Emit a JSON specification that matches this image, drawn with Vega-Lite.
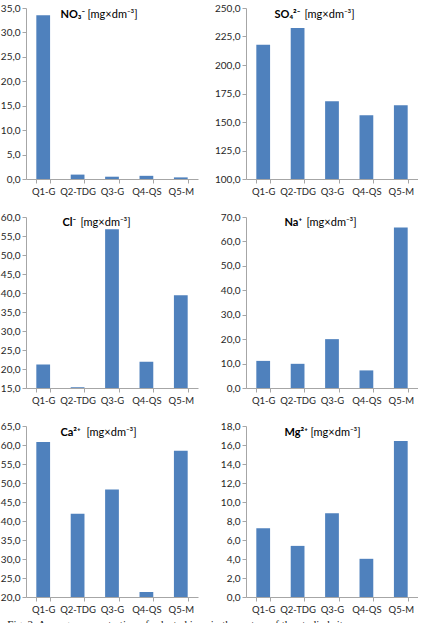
{
  "$schema": "https://vega.github.io/schema/vega-lite/v6.json",
  "padding": {"left": 0, "top": 3, "right": 0, "bottom": 0},
  "background": "white",
  "data": {"values": [
    {"ion": "NO3", "site": "Q1-G", "value": 33.5},
    {"ion": "NO3", "site": "Q2-TDG", "value": 0.9},
    {"ion": "NO3", "site": "Q3-G", "value": 0.47},
    {"ion": "NO3", "site": "Q4-QS", "value": 0.65},
    {"ion": "NO3", "site": "Q5-M", "value": 0.33},
    {"ion": "SO4", "site": "Q1-G", "value": 217.8},
    {"ion": "SO4", "site": "Q2-TDG", "value": 232.5},
    {"ion": "SO4", "site": "Q3-G", "value": 168.3},
    {"ion": "SO4", "site": "Q4-QS", "value": 155.9},
    {"ion": "SO4", "site": "Q5-M", "value": 164.8},
    {"ion": "Cl", "site": "Q1-G", "value": 21.2},
    {"ion": "Cl", "site": "Q2-TDG", "value": 15.2},
    {"ion": "Cl", "site": "Q3-G", "value": 56.8},
    {"ion": "Cl", "site": "Q4-QS", "value": 21.9},
    {"ion": "Cl", "site": "Q5-M", "value": 39.4},
    {"ion": "Na", "site": "Q1-G", "value": 11.1},
    {"ion": "Na", "site": "Q2-TDG", "value": 9.9},
    {"ion": "Na", "site": "Q3-G", "value": 20.0},
    {"ion": "Na", "site": "Q4-QS", "value": 7.2},
    {"ion": "Na", "site": "Q5-M", "value": 65.7},
    {"ion": "Ca", "site": "Q1-G", "value": 60.8},
    {"ion": "Ca", "site": "Q2-TDG", "value": 41.9},
    {"ion": "Ca", "site": "Q3-G", "value": 48.3},
    {"ion": "Ca", "site": "Q4-QS", "value": 21.3},
    {"ion": "Ca", "site": "Q5-M", "value": 58.5},
    {"ion": "Mg", "site": "Q1-G", "value": 7.24},
    {"ion": "Mg", "site": "Q2-TDG", "value": 5.38},
    {"ion": "Mg", "site": "Q3-G", "value": 8.81},
    {"ion": "Mg", "site": "Q4-QS", "value": 4.02},
    {"ion": "Mg", "site": "Q5-M", "value": 16.43}
  ]},
  "columns": 2,
  "spacing": {"row": 16, "column": 16},
  "title": {
    "text": "Fig. 2. Average concentration of selected ions in the waters of the studied sites",
    "orient": "bottom",
    "anchor": "start",
    "font": "Liberation Serif",
    "fontSize": 11,
    "fontWeight": "normal",
    "color": "#222222",
    "offset": 5,
    "dx": 7
  },
  "concat": [
    {
      "width": 172, "height": 171,
      "transform": [{"filter": "datum.ion == 'NO3'"}],
      "mark": {"type": "bar", "color": "#4f81bd", "clip": true},
      "encoding": {
        "x": {"field": "site", "type": "nominal", "sort": null,
              "scale": {"paddingInner": 0.6, "paddingOuter": 0.3},
              "axis": {"title": "[mg×dm⁻³]", "titleX": 61, "titleY": -162}},
        "y": {"field": "value", "type": "quantitative",
              "scale": {"domain": [0, 35], "nice": false, "zero": false},
              "axis": {"values": [0, 5, 10, 15, 20, 25, 30, 35], "title": "NO₃⁻", "titleX": 34, "titleY": 9}}
      }
    },
    {
      "width": 172, "height": 171,
      "transform": [{"filter": "datum.ion == 'SO4'"}],
      "mark": {"type": "bar", "color": "#4f81bd", "clip": true},
      "encoding": {
        "x": {"field": "site", "type": "nominal", "sort": null,
              "scale": {"paddingInner": 0.6, "paddingOuter": 0.3},
              "axis": {"title": "[mg×dm⁻³]", "titleX": 58, "titleY": -162}},
        "y": {"field": "value", "type": "quantitative",
              "scale": {"domain": [100, 250], "nice": false, "zero": false},
              "axis": {"values": [100, 125, 150, 175, 200, 225, 250], "title": "SO₄²⁻", "titleX": 28, "titleY": 9}}
      }
    },
    {
      "width": 172, "height": 171,
      "transform": [{"filter": "datum.ion == 'Cl'"}],
      "mark": {"type": "bar", "color": "#4f81bd", "clip": true},
      "encoding": {
        "x": {"field": "site", "type": "nominal", "sort": null,
              "scale": {"paddingInner": 0.6, "paddingOuter": 0.3},
              "axis": {"title": "[mg×dm⁻³]", "titleX": 54, "titleY": -163}},
        "y": {"field": "value", "type": "quantitative",
              "scale": {"domain": [15, 60], "nice": false, "zero": false},
              "axis": {"values": [15, 20, 25, 30, 35, 40, 45, 50, 55, 60], "title": "Cl⁻", "titleX": 36, "titleY": 8}}
      }
    },
    {
      "width": 172, "height": 171,
      "transform": [{"filter": "datum.ion == 'Na'"}],
      "mark": {"type": "bar", "color": "#4f81bd", "clip": true},
      "encoding": {
        "x": {"field": "site", "type": "nominal", "sort": null,
              "scale": {"paddingInner": 0.6, "paddingOuter": 0.3},
              "axis": {"title": "[mg×dm⁻³]", "titleX": 60, "titleY": -163}},
        "y": {"field": "value", "type": "quantitative",
              "scale": {"domain": [0, 70], "nice": false, "zero": false},
              "axis": {"values": [0, 10, 20, 30, 40, 50, 60, 70], "title": "Na⁺", "titleX": 38, "titleY": 8}}
      }
    },
    {
      "width": 172, "height": 171,
      "transform": [{"filter": "datum.ion == 'Ca'"}],
      "mark": {"type": "bar", "color": "#4f81bd", "clip": true},
      "encoding": {
        "x": {"field": "site", "type": "nominal", "sort": null,
              "scale": {"paddingInner": 0.6, "paddingOuter": 0.3},
              "axis": {"title": "[mg×dm⁻³]", "titleX": 60, "titleY": -162}},
        "y": {"field": "value", "type": "quantitative",
              "scale": {"domain": [20, 65], "nice": false, "zero": false},
              "axis": {"values": [20, 25, 30, 35, 40, 45, 50, 55, 60, 65], "title": "Ca²⁺", "titleX": 34, "titleY": 9}}
      }
    },
    {
      "width": 172, "height": 171,
      "transform": [{"filter": "datum.ion == 'Mg'"}],
      "mark": {"type": "bar", "color": "#4f81bd", "clip": true},
      "encoding": {
        "x": {"field": "site", "type": "nominal", "sort": null,
              "scale": {"paddingInner": 0.6, "paddingOuter": 0.3},
              "axis": {"title": "[mg×dm⁻³]", "titleX": 64, "titleY": -162}},
        "y": {"field": "value", "type": "quantitative",
              "scale": {"domain": [0, 18], "nice": false, "zero": false},
              "axis": {"values": [0, 2, 4, 6, 8, 10, 12, 14, 16, 18], "title": "Mg²⁺", "titleX": 38, "titleY": 9}}
      }
    }
  ],
  "config": {
    "view": {"stroke": null},
    "font": "Lato",
    "axis": {
      "grid": false,
      "domainColor": "#a6a6a6",
      "tickColor": "#a6a6a6",
      "tickSize": 4,
      "labelFont": "Lato",
      "labelFontSize": 10,
      "labelColor": "#262626",
      "titleFont": "Lato",
      "titleFontSize": 11,
      "titleColor": "#000000",
      "titleAngle": 0,
      "titleAlign": "left",
      "titleBaseline": "alphabetic",
      "labelPadding": 2
    },
    "axisX": {
      "labelAngle": 0,
      "labelFontSize": 9.5,
      "tickBand": "extent",
      "titleFontWeight": "normal",
      "labelPadding": 3
    },
    "axisY": {
      "titleFontWeight": "bold",
      "labelExpr": "replace(format(datum.value, '.1f'), '.', ',')"
    }
  }
}
